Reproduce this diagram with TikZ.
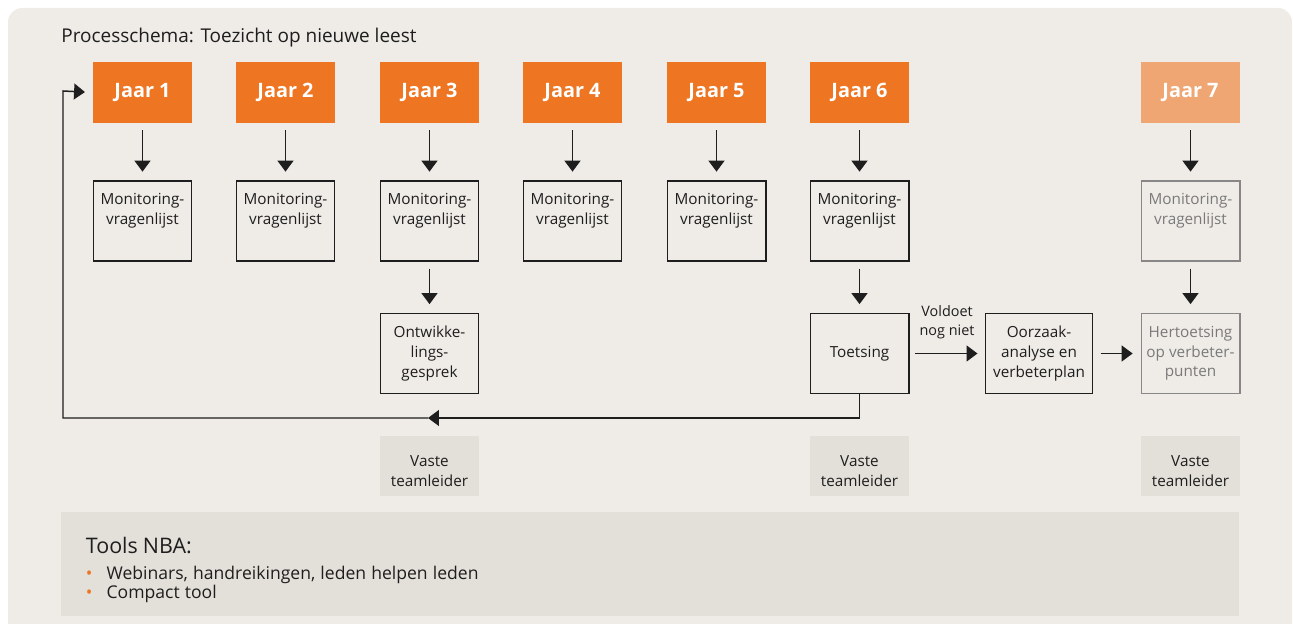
\documentclass[tikz,border=0pt]{standalone}
\usepackage{fontspec}
\setmainfont{Open Sans}
\usetikzlibrary{arrows.meta}

\definecolor{achtergrond}{HTML}{EFECE8}
\definecolor{vlak}{HTML}{E3DFD9}
\definecolor{oranje}{HTML}{EE7623}
\definecolor{lichtoranje}{HTML}{F0A672}
\definecolor{tekst}{HTML}{1E1E1E}
\definecolor{grijs}{HTML}{7A7A7A}

\newcommand{\bovenaan}[1]{\parbox[c][43pt][t]{54pt}{\centering\vspace*{6pt}#1}}

\begin{document}
\begin{tikzpicture}
[
    x=0.02cm, y=-0.02cm,
    every node/.style={text=tekst, font=\fontsize{8.7}{11.2}\selectfont},
    jaar/.style={fill=oranje, text=white, font=\fontsize{11.3}{13}\selectfont\bfseries,
        minimum width=56.1pt, minimum height=34.6pt, inner sep=0pt},
    stap/.style={draw=tekst, line width=0.8pt, minimum width=56.1pt, minimum height=45.4pt,
        inner sep=0pt, align=center},
    vaag/.style={draw=grijs!90, text=grijs},
    vast/.style={fill=vlak, minimum width=56.1pt, minimum height=34pt, inner sep=0pt, align=center},
    pijl/.style={line width=0.85pt, draw=tekst, -{Triangle[width=9pt,length=6.2pt]},
        shorten <=4pt, shorten >=5pt},
]
\useasboundingbox (0,0) rectangle (1293,624);
\fill[achtergrond, rounded corners=8pt] (8,8) rectangle (1292,700);

\node [anchor=west, inner sep=0pt, font=\fontsize{10.8}{12}\selectfont] (titel) at (61,38)
    {Processchema: Toezicht op nieuwe leest};

% jaren
\node [jaar] (jaar1) at (142.5,92.5) {Jaar 1};
\node [jaar] (jaar2) at (285.5,92.5) {Jaar 2};
\node [jaar] (jaar3) at (429.5,92.5) {Jaar 3};
\node [jaar] (jaar4) at (572.5,92.5) {Jaar 4};
\node [jaar] (jaar5) at (716.5,92.5) {Jaar 5};
\node [jaar] (jaar6) at (859.5,92.5) {Jaar 6};
\node [jaar, fill=lichtoranje] (jaar7) at (1190.5,92.5) {Jaar 7};

% monitoring
\node [stap] (mon1) at (142.5,221) {\bovenaan{Monitoring-\\vragenlijst}};
\node [stap] (mon2) at (285.5,221) {\bovenaan{Monitoring-\\vragenlijst}};
\node [stap] (mon3) at (429.5,221) {\bovenaan{Monitoring-\\vragenlijst}};
\node [stap] (mon4) at (572.5,221) {\bovenaan{Monitoring-\\vragenlijst}};
\node [stap] (mon5) at (716.5,221) {\bovenaan{Monitoring-\\vragenlijst}};
\node [stap] (mon6) at (859.5,221) {\bovenaan{Monitoring-\\vragenlijst}};
\node [stap, vaag] (mon7) at (1190.5,221) {\bovenaan{\color{grijs}Monitoring-\\vragenlijst}};

% tweede rij
\node [stap] (gesprek) at (429.5,353.5) {Ontwikke-\\lings-\\gesprek};
\node [stap] (toets) at (859.5,353.5) {Toetsing};
\node [stap, minimum width=61.2pt] (oorzaak) at (1039,353.5) {Oorzaak-\\analyse en\\verbeterplan};
\node [stap, vaag] (hertoets) at (1190.5,353.5) {Hertoetsing\\op verbeter-\\punten};

% teamleiders
\node [vast] (vast3) at (429.5,466) {Vaste\rule{0pt}{12pt}\\teamleider};
\node [vast] (vast6) at (859.5,466) {Vaste\rule{0pt}{12pt}\\teamleider};
\node [vast] (vast7) at (1190.5,466) {Vaste\rule{0pt}{12pt}\\teamleider};

\foreach \i in {1,...,7}
    \draw [pijl] (jaar\i) -- (mon\i);
\draw [pijl] (mon3) -- (gesprek);
\draw [pijl] (mon6) -- (toets);
\draw [pijl] (mon7) -- (hertoets);
\draw [pijl, shorten <=3pt, shorten >=4pt] (toets) -- node [above=4.5pt, align=center,
    font=\fontsize{8.2}{10.6}\selectfont] (voldoet) {Voldoet\\nog niet} (oorzaak);
\draw [pijl, shorten >=4.5pt] (oorzaak) -- (hertoets);

% terug naar jaar 1
\coordinate (terug) at (428,418);
\coordinate (hoek) at (63,91);
\draw [pijl, shorten <=0pt, shorten >=0pt] (toets.south) |- (terug);
\draw [pijl, shorten <=0pt, shorten >=4.5pt] (terug) -| (hoek) -- (jaar1.west);

% tools
\node [fill=vlak, anchor=north west, minimum width=668.4pt, minimum height=59pt,
    text width=642pt, inner xsep=14pt, align=left] (tools) at (61,512)
    {{\fontsize{12.2}{14}\selectfont\rule{0pt}{16pt}Tools NBA:}\\[2.5pt]
     {\fontsize{10}{12.3}\selectfont
     \textcolor{oranje}{\textbullet}\hspace{8pt}Webinars, handreikingen, leden helpen leden\\
     \textcolor{oranje}{\textbullet}\hspace{8pt}Compact tool}};
\end{tikzpicture}
\end{document}
